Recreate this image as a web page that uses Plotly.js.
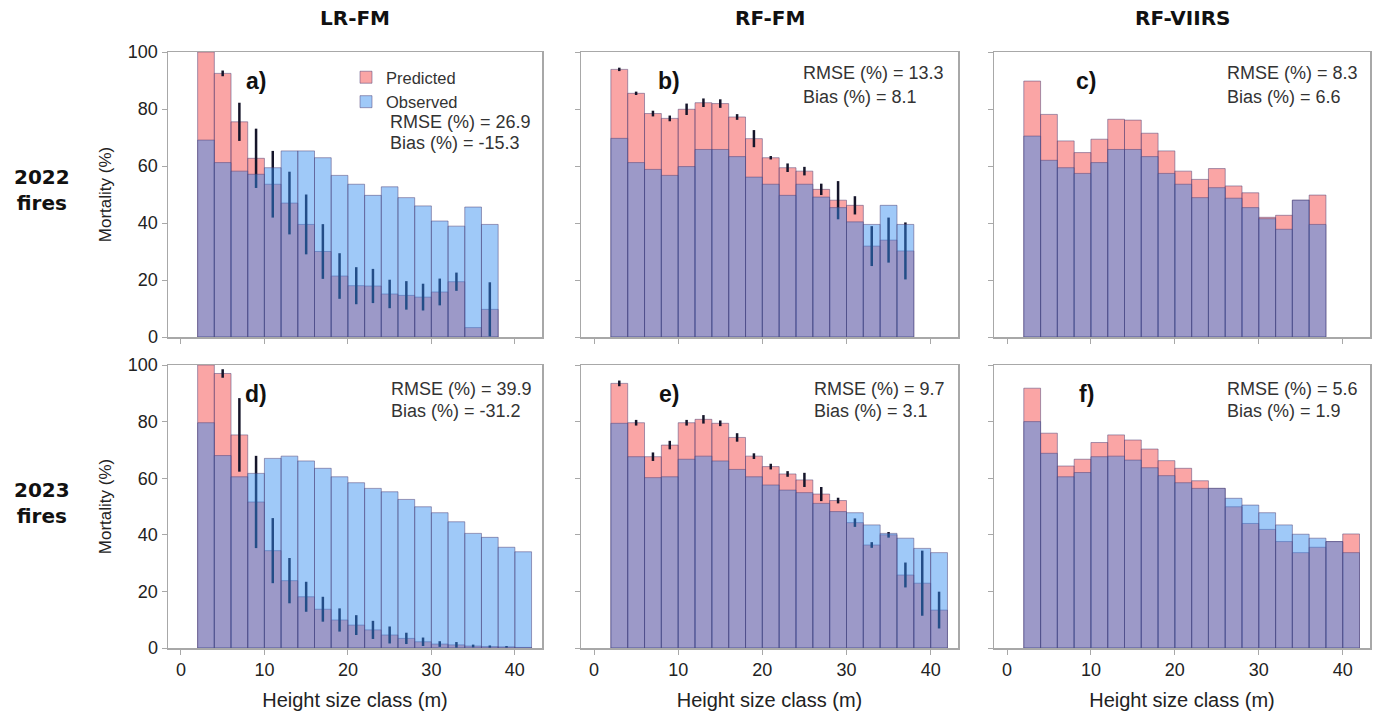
<!DOCTYPE html>
<html>
<head>
<meta charset="utf-8">
<script src="https://cdn.plot.ly/plotly-3.0.1.min.js"></script>
<style>html,body{margin:0;padding:0;background:#fff;}#chart{width:1379px;height:720px;}</style>
</head>
<body>
<div id="chart"></div>
<script>
// ---- Data (height size class mid-points, m) ----
const xMid2022 = [3,5,7,9,11,13,15,17,19,21,23,25,27,29,31,33,35,37];
const xMid2023 = [3,5,7,9,11,13,15,17,19,21,23,25,27,29,31,33,35,37,39,41];

// a) LR-FM 2022
const predLR22 = [100,92.5,75.5,62.7,53.6,47,39.5,30,21.4,18,17.9,15.1,14.6,14,15.8,19.4,3.3,9.7];
const obsLR22  = [69.1,61.2,58.2,57.1,59.4,65.3,65.3,62.9,56.7,53.6,49.7,52.7,48.9,46,40.7,38.9,45.6,39.5];
const errLR22  = [0,1,6.7,10.4,11.7,11,10.5,9.6,8,6.5,6,5,5,4.7,4.7,3.2,0,9.5];

// b) RF-FM 2022
const predRF22 = [93.9,85.5,78.4,76.7,79.9,82.2,81.9,77.2,69.6,62.9,59.4,58.2,51.8,48,46.2,31.9,34,30.2];
const obsRF22  = [69.7,61.2,58.8,56.7,59.8,65.8,65.8,63.3,56.1,53.6,49.7,53.6,49.1,45.4,40.4,39.5,46.2,39.5];
const errRF22  = [0.6,0.6,1,1,2,1.5,1.5,1,3,0.6,1.5,1.5,2,6.7,3.2,7,7.9,10];

// c) RF-VIIRS 2022
const predVI22 = [89.8,78.1,68.8,64.7,69.4,76.4,76.1,71.5,65.3,58.2,55.3,59.1,53,50.6,42,42.7,48,49.8];
const obsVI22  = [70.5,62,59.4,57.4,61.2,65.8,65.8,63.3,57.4,53.6,48.9,52.4,48.7,45.4,41.5,37.8,48,39.5];

// d) LR-FM 2023
const predLR23 = [100,97,75.3,51.6,34.4,23.8,18.1,13.7,9.9,8.1,6.4,4.6,3.4,2.2,1.4,1.1,0.7,0.5,0.4,0.2];
const obsLR23  = [79.6,68,60.5,61.7,67,67.8,66.1,63.5,60.5,58.4,56.4,55.2,52.5,49.9,47.8,44.6,40.5,39.1,35.6,34];
const errLR23  = [0,1.5,13,16.3,11.5,8,5.3,4.4,4.1,3.5,3.2,3,2,1.5,1,1,0.5,0.4,0.3,0];

// e) RF-FM 2023
const predRF23 = [93.5,79.6,67.6,71.7,79.6,80.8,79.4,74.4,67.8,64.1,61.5,59.4,54.4,52.1,44.3,36.4,40,25.8,22.9,13.4];
const obsRF23  = [79.4,67.6,60.2,60.5,66.7,67.8,66.1,63.1,60.5,57.6,55.8,54.9,51.1,48.2,47.8,43.5,40.5,38.8,35.2,33.7];
const errRF23  = [1,1,1.5,1.5,1,1.5,1,1.5,1,1,1,2.5,2.5,1,1.5,1,1,4.4,11.5,6.5];

// f) RF-VIIRS 2023
const predVI23 = [91.8,75.9,64.3,66.7,72.6,75.3,73.5,70.3,66.2,63.5,59.1,56.4,49.9,44,41.9,37.6,33.7,35.6,37.6,40.3];
const obsVI23  = [80,68.8,60.5,62,67.6,67.8,66.4,63.7,60.9,58.4,56.4,56.4,52.9,50.5,47.8,43.5,40.2,38.8,37.6,33.7];

const colTitles = ["LR-FM","RF-FM","RF-VIIRS"];
const rowTitles = ["2022<br>fires","2023<br>fires"];
const panelLetters = ["a)","b)","c)","d)","e)","f)"];
const rmseVals = ["26.9","13.3","8.3","39.9","9.7","5.6"];
const biasVals = ["-15.3","8.1","6.6","-31.2","3.1","1.9"];
const xTicks = [0,10,20,30,40];
const yTicks = [0,20,40,60,80,100];

// ---- Layout geometry (pixels) ----
const W = 1379, H = 720;
const colPx = [[168,542],[581,958],[994,1370]];
const rowPx = [[52,337],[365,648]];
const px = x => x / W;
const py = y => 1 - y / H;

const PRED_COLOR = 'rgba(245,75,75,0.5)';
const OBS_COLOR = 'rgba(50,140,240,0.47)';
const EDGE = {color:'rgba(80,65,120,0.5)', width:1};
const FONT = 'Liberation Sans, Arial, sans-serif';

const panels = [
  {x:xMid2022, pred:predLR22, obs:obsLR22, err:errLR22},
  {x:xMid2022, pred:predRF22, obs:obsRF22, err:errRF22},
  {x:xMid2022, pred:predVI22, obs:obsVI22, err:null},
  {x:xMid2023, pred:predLR23, obs:obsLR23, err:errLR23},
  {x:xMid2023, pred:predRF23, obs:obsRF23, err:errRF23},
  {x:xMid2023, pred:predVI23, obs:obsVI23, err:null}
];

const traces = [];
const layout = {
  width: W, height: H,
  margin: {l:0, r:0, t:0, b:0},
  paper_bgcolor: '#fff', plot_bgcolor: '#fff',
  barmode: 'overlay',
  showlegend: true,
  legend: {x: px(346), y: py(60), xanchor:'left', yanchor:'top',
           bgcolor:'rgba(0,0,0,0)', font:{family:FONT, size:16.5, color:'#333'},
           tracegroupgap:0, itemwidth:30},
  font: {family: FONT, color:'#222'},
  annotations: [],
  hovermode: false
};

panels.forEach((p, i) => {
  const n = i + 1;
  const suf = n === 1 ? '' : String(n);
  const row = Math.floor(i / 3), col = i % 3;
  const predTrace = {
    type:'bar', x:p.x, y:p.pred, width:2, name:'Predicted',
    xaxis:'x'+suf, yaxis:'y'+suf,
    marker:{color:PRED_COLOR, line:EDGE},
    showlegend: i === 0, legendgroup:'pred'
  };
  if (p.err) {
    predTrace.error_y = {type:'data', array:p.err, visible:true,
      color:'#15152a', thickness:2.5, width:0};
  }
  traces.push(predTrace);
  traces.push({
    type:'bar', x:p.x, y:p.obs, width:2, name:'Observed',
    xaxis:'x'+suf, yaxis:'y'+suf,
    marker:{color:OBS_COLOR, line:EDGE},
    showlegend: i === 0, legendgroup:'obs'
  });

  const common = {showline:true, mirror:true, linecolor:'#a8a8a8', linewidth:1.5,
    ticks:'outside', ticklen:5, tickcolor:'#a8a8a8', showgrid:false, zeroline:false,
    tickfont:{family:FONT, size:18, color:'#222'}, fixedrange:true};
  layout['xaxis'+suf] = Object.assign({}, common, {
    domain:[px(colPx[col][0]), px(colPx[col][1])],
    range:[-1.55, 43.25], tickvals:xTicks, anchor:'y'+suf,
    showticklabels: row === 1,
    title: row === 1 ? {text:'Height size class (m)', font:{family:FONT, size:20, color:'#222'}, standoff:14} : undefined
  });
  layout['yaxis'+suf] = Object.assign({}, common, {
    domain:[py(rowPx[row][1]), py(rowPx[row][0])],
    range:[0, 100], tickvals:yTicks, anchor:'x'+suf,
    showticklabels: col === 0,
    title: col === 0 ? {text:'Mortality (%)', font:{family:FONT, size:17, color:'#222'}, standoff:12} : undefined
  });
});

// Column titles
colTitles.forEach((t, c) => {
  layout.annotations.push({xref:'paper', yref:'paper', x:px((colPx[c][0]+colPx[c][1])/2), y:py(18),
    text:'<b>'+t+'</b>', showarrow:false, xanchor:'center', yanchor:'middle',
    font:{family:'DejaVu Sans, sans-serif', size:20, color:'#111'}});
});
// Row titles
rowTitles.forEach((t, r) => {
  layout.annotations.push({xref:'paper', yref:'paper', x:px(42), y:py(r === 0 ? 190 : 503),
    text:'<b>'+t+'</b>', showarrow:false, xanchor:'center', yanchor:'middle', align:'center',
    font:{family:'DejaVu Sans, sans-serif', size:20, color:'#111'}});
});
// Panel letters and stats
const letterX = [256, 669, 1086, 256, 669, 1086];
const statX = [388, 801, 1225, 389, 812, 1225];
const statY = [[122,143],[73,97],[73,97],[389,411],[389,411],[389,411]];
panelLetters.forEach((L, i) => {
  const row = Math.floor(i / 3);
  layout.annotations.push({xref:'paper', yref:'paper', x:px(letterX[i]), y:py(row === 0 ? 81 : 394),
    text:'<b>'+L+'</b>', showarrow:false, xanchor:'center', yanchor:'middle',
    font:{family:FONT, size:23, color:'#111'}});
  layout.annotations.push({xref:'paper', yref:'paper', x:px(statX[i]), y:py(statY[i][0]),
    text:'RMSE (%) = '+rmseVals[i], showarrow:false, xanchor:'left', yanchor:'middle',
    font:{family:FONT, size:18, color:'#333'}});
  layout.annotations.push({xref:'paper', yref:'paper', x:px(statX[i]), y:py(statY[i][1]),
    text:'Bias (%) = '+biasVals[i], showarrow:false, xanchor:'left', yanchor:'middle',
    font:{family:FONT, size:18, color:'#333'}});
});

Plotly.newPlot('chart', traces, layout, {displayModeBar:false, staticPlot:true});
</script>
</body>
</html>
